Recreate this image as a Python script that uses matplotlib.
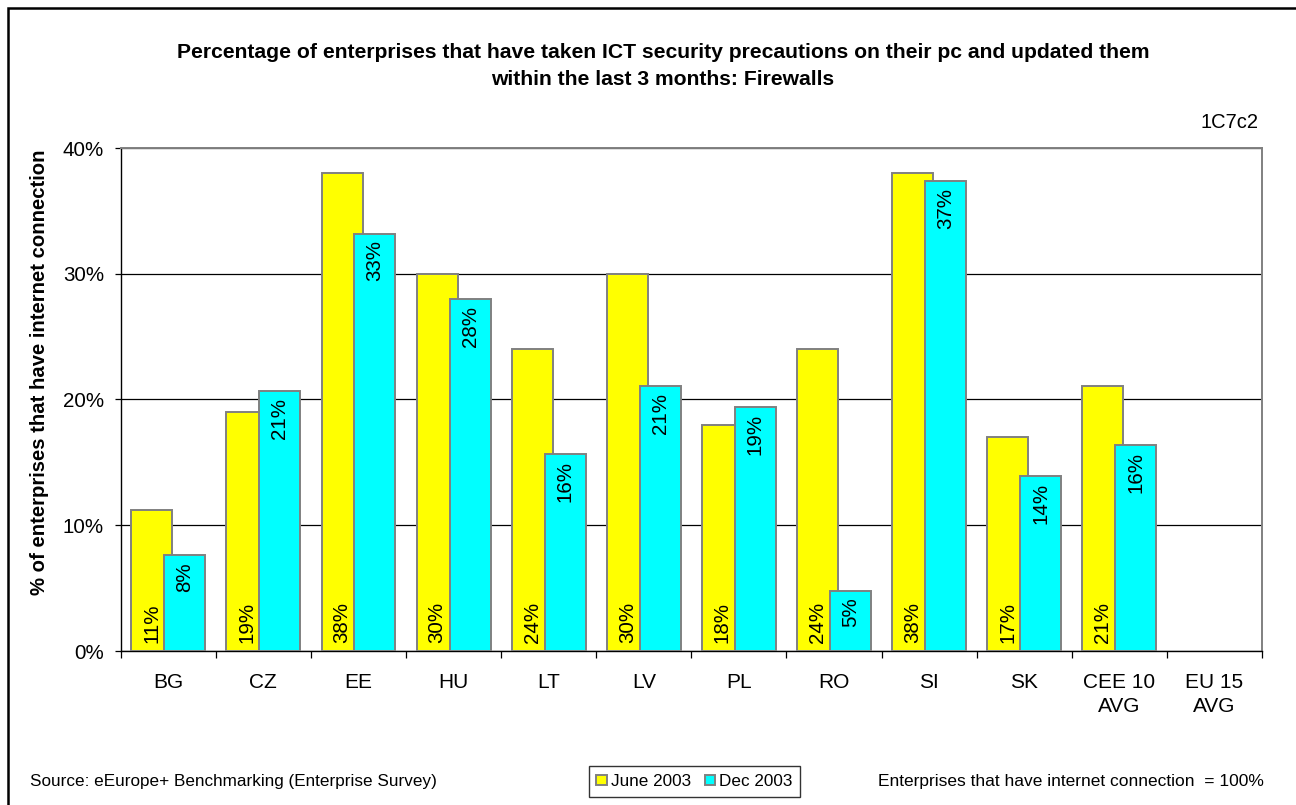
import numpy as np
import matplotlib
matplotlib.use("Agg")
import matplotlib.pyplot as plt
from matplotlib.patches import Rectangle
from matplotlib.ticker import FuncFormatter, MultipleLocator, FixedLocator

plt.rcParams['font.family'] = ['Liberation Sans', 'DejaVu Sans']

categories = ["BG", "CZ", "EE", "HU", "LT", "LV", "PL", "RO", "SI", "SK",
              "CEE 10\nAVG", "EU 15\nAVG"]
june_2003 = [11.2, 19.0, 38.0, 30.0, 24.0, 30.0, 18.0, 24.0, 38.0, 17.0, 21.1, np.nan]
dec_2003 = [7.6, 20.7, 33.2, 28.0, 15.7, 21.1, 19.4, 4.8, 37.4, 13.9, 16.4, np.nan]

W, H = 1296, 805
fig = plt.figure(figsize=(W / 100, H / 100), dpi=100)
ax = fig.add_axes([120.7 / W, 1 - 651 / H, (1262 - 120.7) / W, (651 - 148) / H])

x = np.arange(len(categories))
w = 0.431
off = 0.173
yellow = "#FFFF00"
cyan = "#00FFFF"
edge = "#808080"

b1 = ax.bar(x - off, june_2003, w, color=yellow, edgecolor=edge, linewidth=1.4,
            label="June 2003", zorder=3)
b2 = ax.bar(x + off, dec_2003, w, color=cyan, edgecolor=edge, linewidth=1.4,
            label="Dec 2003", zorder=4)

for xi, v in zip(x, june_2003):
    if not np.isnan(v):
        ax.annotate(f"{v:.0f}%", (xi - off, 0), xytext=(0, 6), textcoords="offset points",
                    rotation=90, ha="center", va="bottom", fontsize=14.8, zorder=5)
for xi, v in zip(x, dec_2003):
    if not np.isnan(v):
        ax.annotate(f"{v:.0f}%", (xi + off, v), xytext=(0, -5), textcoords="offset points",
                    rotation=90, ha="center", va="top", fontsize=14.8, zorder=5)

ax.set_xlim(-0.5, len(categories) - 0.5)
ax.set_ylim(0, 40)
ax.yaxis.set_major_locator(MultipleLocator(10))
ax.yaxis.set_major_formatter(FuncFormatter(lambda v, p: f"{v:.0f}%"))
ax.grid(axis="y", color="black", linewidth=0.9, zorder=0)

ax.set_xticks(x)
ax.set_xticklabels(categories, fontsize=15, linespacing=1.35)
ax.tick_params(axis="x", which="major", length=0, pad=16)
ax.xaxis.set_minor_locator(FixedLocator(np.arange(-0.5, len(categories), 1.0)))
ax.tick_params(axis="x", which="minor", length=5, width=0.9, direction="out")
ax.tick_params(axis="y", labelsize=14.8, length=4.5, width=0.9, direction="out", pad=7.5)

for s in ["top", "right"]:
    ax.spines[s].set_color(edge)
    ax.spines[s].set_linewidth(1.4)
for s in ["left", "bottom"]:
    ax.spines[s].set_color("black")
    ax.spines[s].set_linewidth(1.0)

fig.text(40 / W, 1 - 372 / H, "% of enterprises that have internet connection",
         rotation=90, ha="center", va="center", fontsize=14.6, fontweight="bold")

fig.text(663 / W, 1 - 66 / H,
         "Percentage of enterprises that have taken ICT security precautions on their pc and updated them\nwithin the last 3 months: Firewalls",
         ha="center", va="center", fontsize=15.2, fontweight="bold", linespacing=1.5)
fig.text(1258 / W, 1 - 122 / H, "1C7c2", ha="right", va="center", fontsize=14.5)
fig.text(30 / W, 1 - 781 / H, "Source: eEurope+ Benchmarking (Enterprise Survey)",
         ha="left", va="center", fontsize=12.3)
fig.text(878 / W, 1 - 781 / H, "Enterprises that have internet connection  = 100%",
         ha="left", va="center", fontsize=12.5)

leg = fig.legend(handles=[b1, b2], loc="center", bbox_to_anchor=(694.5 / W, 1 - 781.5 / H),
                 ncol=2, frameon=True, fancybox=False, edgecolor="black", fontsize=12.3,
                 handlelength=0.6, handleheight=0.6, handletextpad=0.25, columnspacing=0.8,
                 borderpad=0.45, borderaxespad=0)
leg.get_frame().set_linewidth(1.0)

fig.patches.append(Rectangle((8 / W, -0.1), 1.2, 1.1 - 8 / H, transform=fig.transFigure,
                             fill=False, edgecolor="black", linewidth=1.8))

fig.savefig("out.png", dpi=100)
